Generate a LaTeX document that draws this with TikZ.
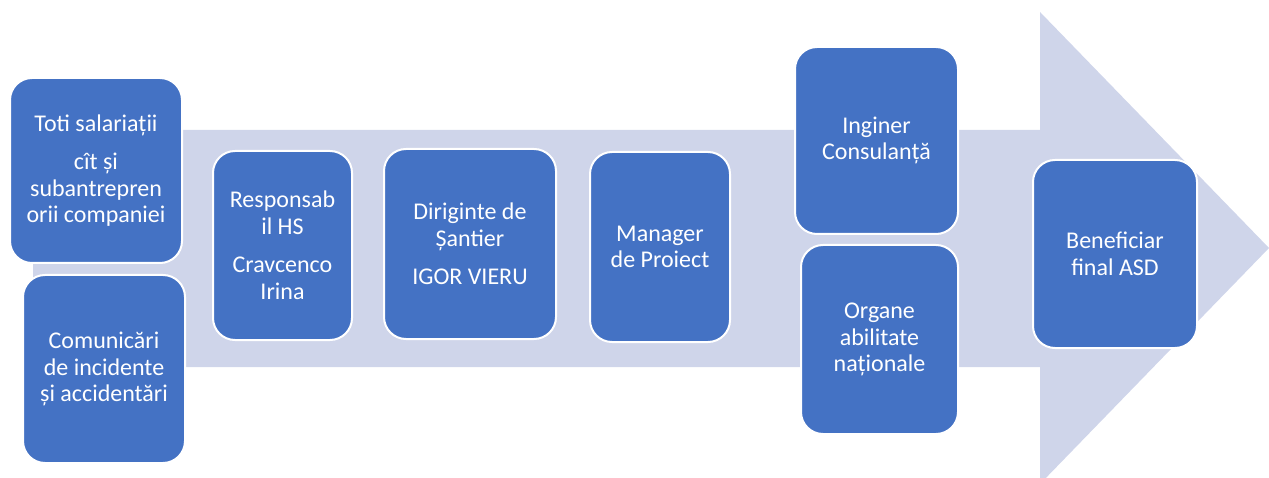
\documentclass[tikz,border=0pt]{standalone}
\usepackage{fontspec}
\setmainfont{Carlito}
\definecolor{arrowc}{HTML}{CFD5EA}
\definecolor{boxc}{HTML}{4472C4}
\begin{document}
\begin{tikzpicture}[x=1pt,y=-1pt,
  box/.style={draw=white, line width=2pt, fill=boxc, rounded corners=22pt,
    text=white, align=center, font=\fontsize{24}{26.5}\selectfont, inner sep=0pt}]
\useasboundingbox (0,0) rectangle (1269,478);
\fill[arrowc] (33,130) -- (1040,130) -- (1040,12) -- (1269,248) -- (1040,484) -- (1040,367) -- (33,367) -- cycle;
\node[box, minimum width=172pt, minimum height=185pt] (b1) at (96,170.5) {Toti salariații\\[12pt]cît și\\subantrepren\\orii companiei};
\node[box, minimum width=162pt, minimum height=188pt] (b2) at (104,369) {Comunicări\\de incidente\\și accidentări};
\node[box, minimum width=139pt, minimum height=189pt] (b3) at (282.5,245.5) {Responsab\\il HS\\[12pt]Cravcenco\\Irina};
\node[box, minimum width=172pt, minimum height=190pt] (b4) at (470,244) {Diriginte de\\Șantier\\[12pt]IGOR VIERU};
\node[box, minimum width=140pt, minimum height=190pt] (b5) at (660,247) {Manager\\de Proiect};
\node[box, minimum width=163pt, minimum height=187pt] (b6) at (876.5,140.5) {Inginer\\Consulanță};
\node[box, minimum width=157pt, minimum height=189pt] (b7) at (879.5,339.5) {Organe\\abilitate\\naționale};
\node[box, minimum width=164pt, minimum height=188pt] (b8) at (1115,254) {Beneficiar\\final ASD};
\end{tikzpicture}
\end{document}
